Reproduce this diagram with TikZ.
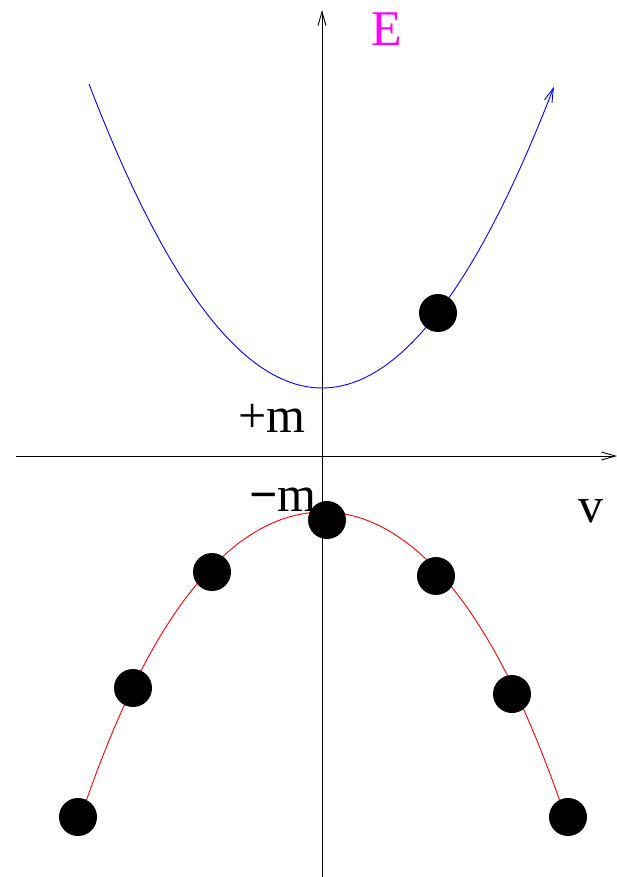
\documentclass[tikz,border=0pt]{standalone}
\usepackage{fontspec}
\setmainfont{Liberation Serif}
\usepackage{tikz}
\usetikzlibrary{arrows.meta}
\definecolor{elabelmag}{RGB}{255,0,255}

\begin{document}
\begin{tikzpicture}[
  x=1pt,y=-1pt,
  axisarr/.style={-{Straight Barb[length=14pt,width=8pt]},line width=0.9pt},
  upperband/.style={blue,line width=0.9pt,-{Straight Barb[length=14pt,width=8pt]}},
  lowerband/.style={red,line width=0.9pt},
  state/.style={circle,fill=black,minimum size=38pt,inner sep=0pt},
  axislabel/.style={font=\fontsize{50}{50}\selectfont,anchor=base,inner sep=0pt},
]
\useasboundingbox (0,0) rectangle (617,877);
% Axes
\coordinate (vbot)   at (322,877);
\coordinate (vtop)   at (322,10);
\coordinate (hleft)  at (16,456);
\coordinate (hright) at (617,456);
\draw[axisarr] (vbot) -- (vtop);
\draw[axisarr] (hleft) -- (hright);

% Upper band (E > 0)
\draw[upperband] plot[domain=-2.33:2.32,samples=80] ({322+100*\x},{388-56*\x*\x});

% Lower band (E < 0)
\draw[lowerband] plot[domain=-2.45:2.45,samples=80] ({323+100*\x},{512+42.7*\x*\x+1.573*\x*\x*\x*\x});

% Occupied states
\foreach \name/\px/\py in {up1/438/313, lo0/327/520, lo1/212/572, lo2/133/688,
                           lo3/78/817, lo4/436/576, lo5/512/694, lo6/568/817}
  \node[state] (\name) at (\px,\py) {};

% Labels
\node[axislabel,text=elabelmag] (elabel) at (387,46)  {E};
\node[axislabel]                (plusm)  at (272,432) {+m};
\node[axislabel]                (minusm) at (283,511) {{\bfseries −}m};
\node[axislabel]                (vlabel) at (591,522) {v};
\end{tikzpicture}
\end{document}
